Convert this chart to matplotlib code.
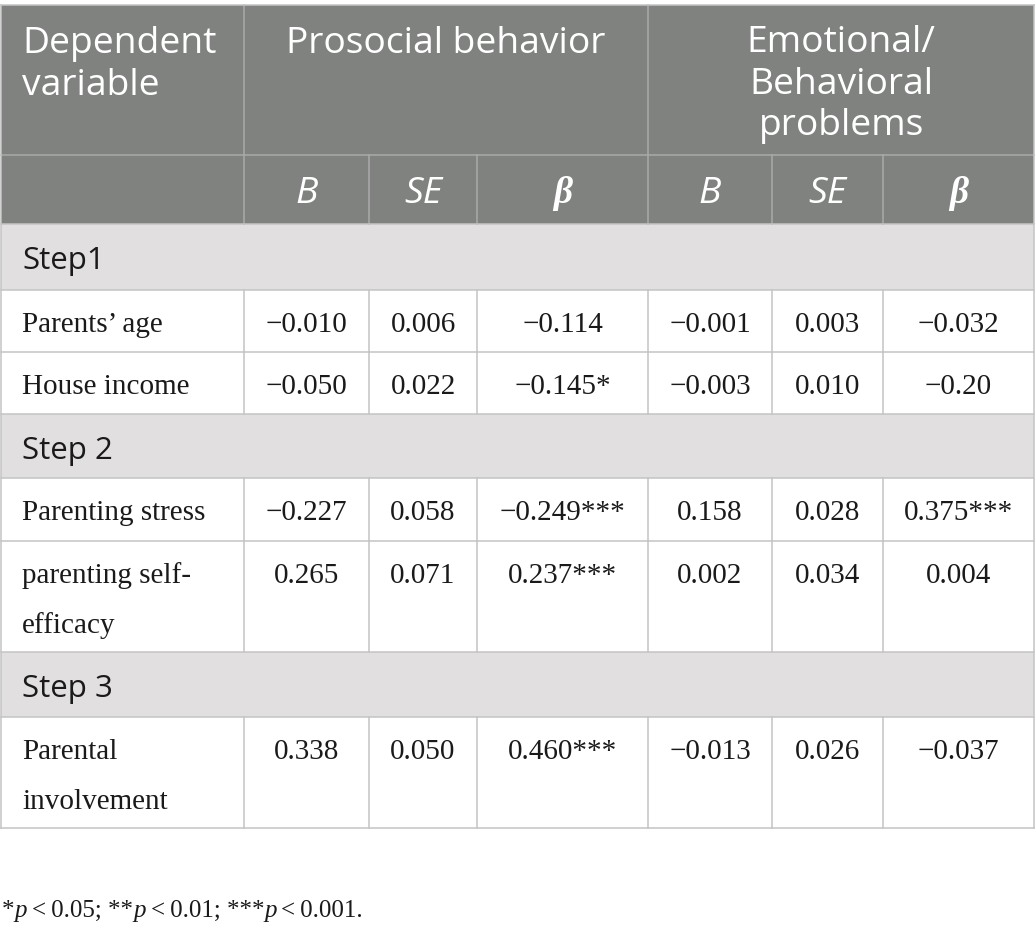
import matplotlib
matplotlib.use("Agg")
import matplotlib.pyplot as plt
from matplotlib.patches import Rectangle

# ---------------- data ----------------
group_headers = ["Prosocial behavior", "Emotional/\nBehavioral\nproblems"]
first_header = "Dependent\nvariable"
sub_headers = ["B", "SE", "β", "B", "SE", "β"]
steps = ["Step1", "Step 2", "Step 3"]
row_labels = ["Parents’ age", "House income", "Parenting stress",
              "parenting self-\nefficacy", "Parental\ninvolvement"]
prosocial_B = ["−0.010", "−0.050", "−0.227", "0.265", "0.338"]
prosocial_SE = ["0.006", "0.022", "0.058", "0.071", "0.050"]
prosocial_beta = ["−0.114", "−0.145*", "−0.249***", "0.237***", "0.460***"]
emo_B = ["−0.001", "−0.003", "0.158", "0.002", "−0.013"]
emo_SE = ["0.003", "0.010", "0.028", "0.034", "0.026"]
emo_beta = ["−0.032", "−0.20", "0.375***", "0.004", "−0.037"]
footnote_runs = [("*", False), ("p", True), ("\u2009<\u20090.05; **", False), ("p", True),
                 ("\u2009<\u20090.01; ***", False), ("p", True), ("\u2009<\u20090.001.", False)]

# ---------------- layout ----------------
W, H = 1035, 933
col_x = [1, 244, 369, 477, 648, 772, 883, 1034]
hdr1 = (5, 155)
hdr2 = (155, 224)
body_rows = [(290, 352), (352, 414), (478, 541), (541, 652), (717, 828)]
step_rows = [(224, 290), (414, 478), (652, 717)]

HDR_BG = "#808280"
STEP_BG = "#e1dfe0"
LINE = "#c4c4c4"
HDR_LINE = "#a9aaa9"
TXT = "#1a1a1a"

SANS = "Open Sans"
SERIF = ["Liberation Serif", "DejaVu Serif"]

fig = plt.figure(figsize=(W / 100, H / 100), dpi=100)
ax = fig.add_axes([0, 0, 1, 1])
ax.set_xlim(0, W)
ax.set_ylim(H, 0)
ax.axis("off")

# backgrounds
ax.add_patch(Rectangle((col_x[0], hdr1[0]), col_x[-1] - col_x[0], hdr2[1] - hdr1[0],
                       facecolor=HDR_BG, edgecolor="none", zorder=0))
for (t, b) in step_rows:
    ax.add_patch(Rectangle((col_x[0], t), col_x[-1] - col_x[0], b - t,
                           facecolor=STEP_BG, edgecolor="none", zorder=0))

lw = 1.1
# header lines
ax.plot([col_x[0], col_x[-1]], [hdr1[0], hdr1[0]], color=LINE, lw=lw, zorder=2)
ax.plot([col_x[0], col_x[-1]], [hdr1[1], hdr1[1]], color=HDR_LINE, lw=lw, zorder=1)
for x in [col_x[1], col_x[4]]:
    ax.plot([x, x], [hdr1[0], hdr2[1]], color=HDR_LINE, lw=lw, zorder=1)
for x in [col_x[2], col_x[3], col_x[5], col_x[6]]:
    ax.plot([x, x], [hdr2[0], hdr2[1]], color=HDR_LINE, lw=lw, zorder=1)
# outer verticals
for x in [col_x[0], col_x[-1]]:
    ax.plot([x, x], [hdr1[0], body_rows[-1][1]], color=LINE, lw=lw, zorder=2)
# horizontal lines in body
ys = set()
for (t, b) in body_rows + step_rows:
    ys.add(t); ys.add(b)
for y in sorted(ys):
    ax.plot([col_x[0], col_x[-1]], [y, y], color=LINE, lw=lw, zorder=2)
# verticals in body rows
for (t, b) in body_rows:
    for x in col_x[1:-1]:
        ax.plot([x, x], [t, b], color=LINE, lw=lw, zorder=2)

# header text
hfs = 26.8
for i, ln in enumerate(first_header.split("\n")):
    ax.text(22, 53 + 42 * i, ln, fontsize=hfs, family=SANS, color="white",
            va="baseline", ha="left")
ax.text((col_x[1] + col_x[4]) / 2, 53, group_headers[0], fontsize=hfs, family=SANS,
        color="white", va="baseline", ha="center")
for i, ln in enumerate(group_headers[1].split("\n")):
    ax.text((col_x[4] + col_x[7]) / 2, 52 + 41.5 * i, ln, fontsize=hfs, family=SANS,
            color="white", va="baseline", ha="center")
for j, s in enumerate(sub_headers):
    cx = (col_x[j + 1] + col_x[j + 2]) / 2
    if s == "β":
        ax.text(cx, 203, s, fontsize=hfs, family=SERIF, style="italic", weight="bold",
                color="white", va="baseline", ha="center")
    else:
        ax.text(cx, 203, s, fontsize=hfs, family=SANS, style="italic",
                color="white", va="baseline", ha="center")

# step text
for (t, b), s in zip(step_rows, steps):
    ax.text(22, t + 45, s, fontsize=22.5, family=SANS, color=TXT,
            va="baseline", ha="left")

# body
bfs = 21
cols = [prosocial_B, prosocial_SE, prosocial_beta, emo_B, emo_SE, emo_beta]
for i, (t, b) in enumerate(body_rows):
    for k, ln in enumerate(row_labels[i].split("\n")):
        ax.text(22, t + 42 + 50 * k, ln, fontsize=bfs, family=SERIF, color=TXT,
                va="baseline", ha="left")
    for j, col in enumerate(cols):
        cx = (col_x[j + 1] + col_x[j + 2]) / 2
        ax.text(cx, t + 42, col[i], fontsize=bfs, family=SERIF, color=TXT,
                va="baseline", ha="center")

# footnote
fig.canvas.draw()
renderer = fig.canvas.get_renderer()
x = 2
for txt, ital in footnote_runs:
    t = ax.text(x, 917, txt, fontsize=18, family=SERIF,
                style="italic" if ital else "normal",
                color=TXT, va="baseline", ha="left")
    x += t.get_window_extent(renderer=renderer).width

fig.savefig("out.png", dpi=100)
